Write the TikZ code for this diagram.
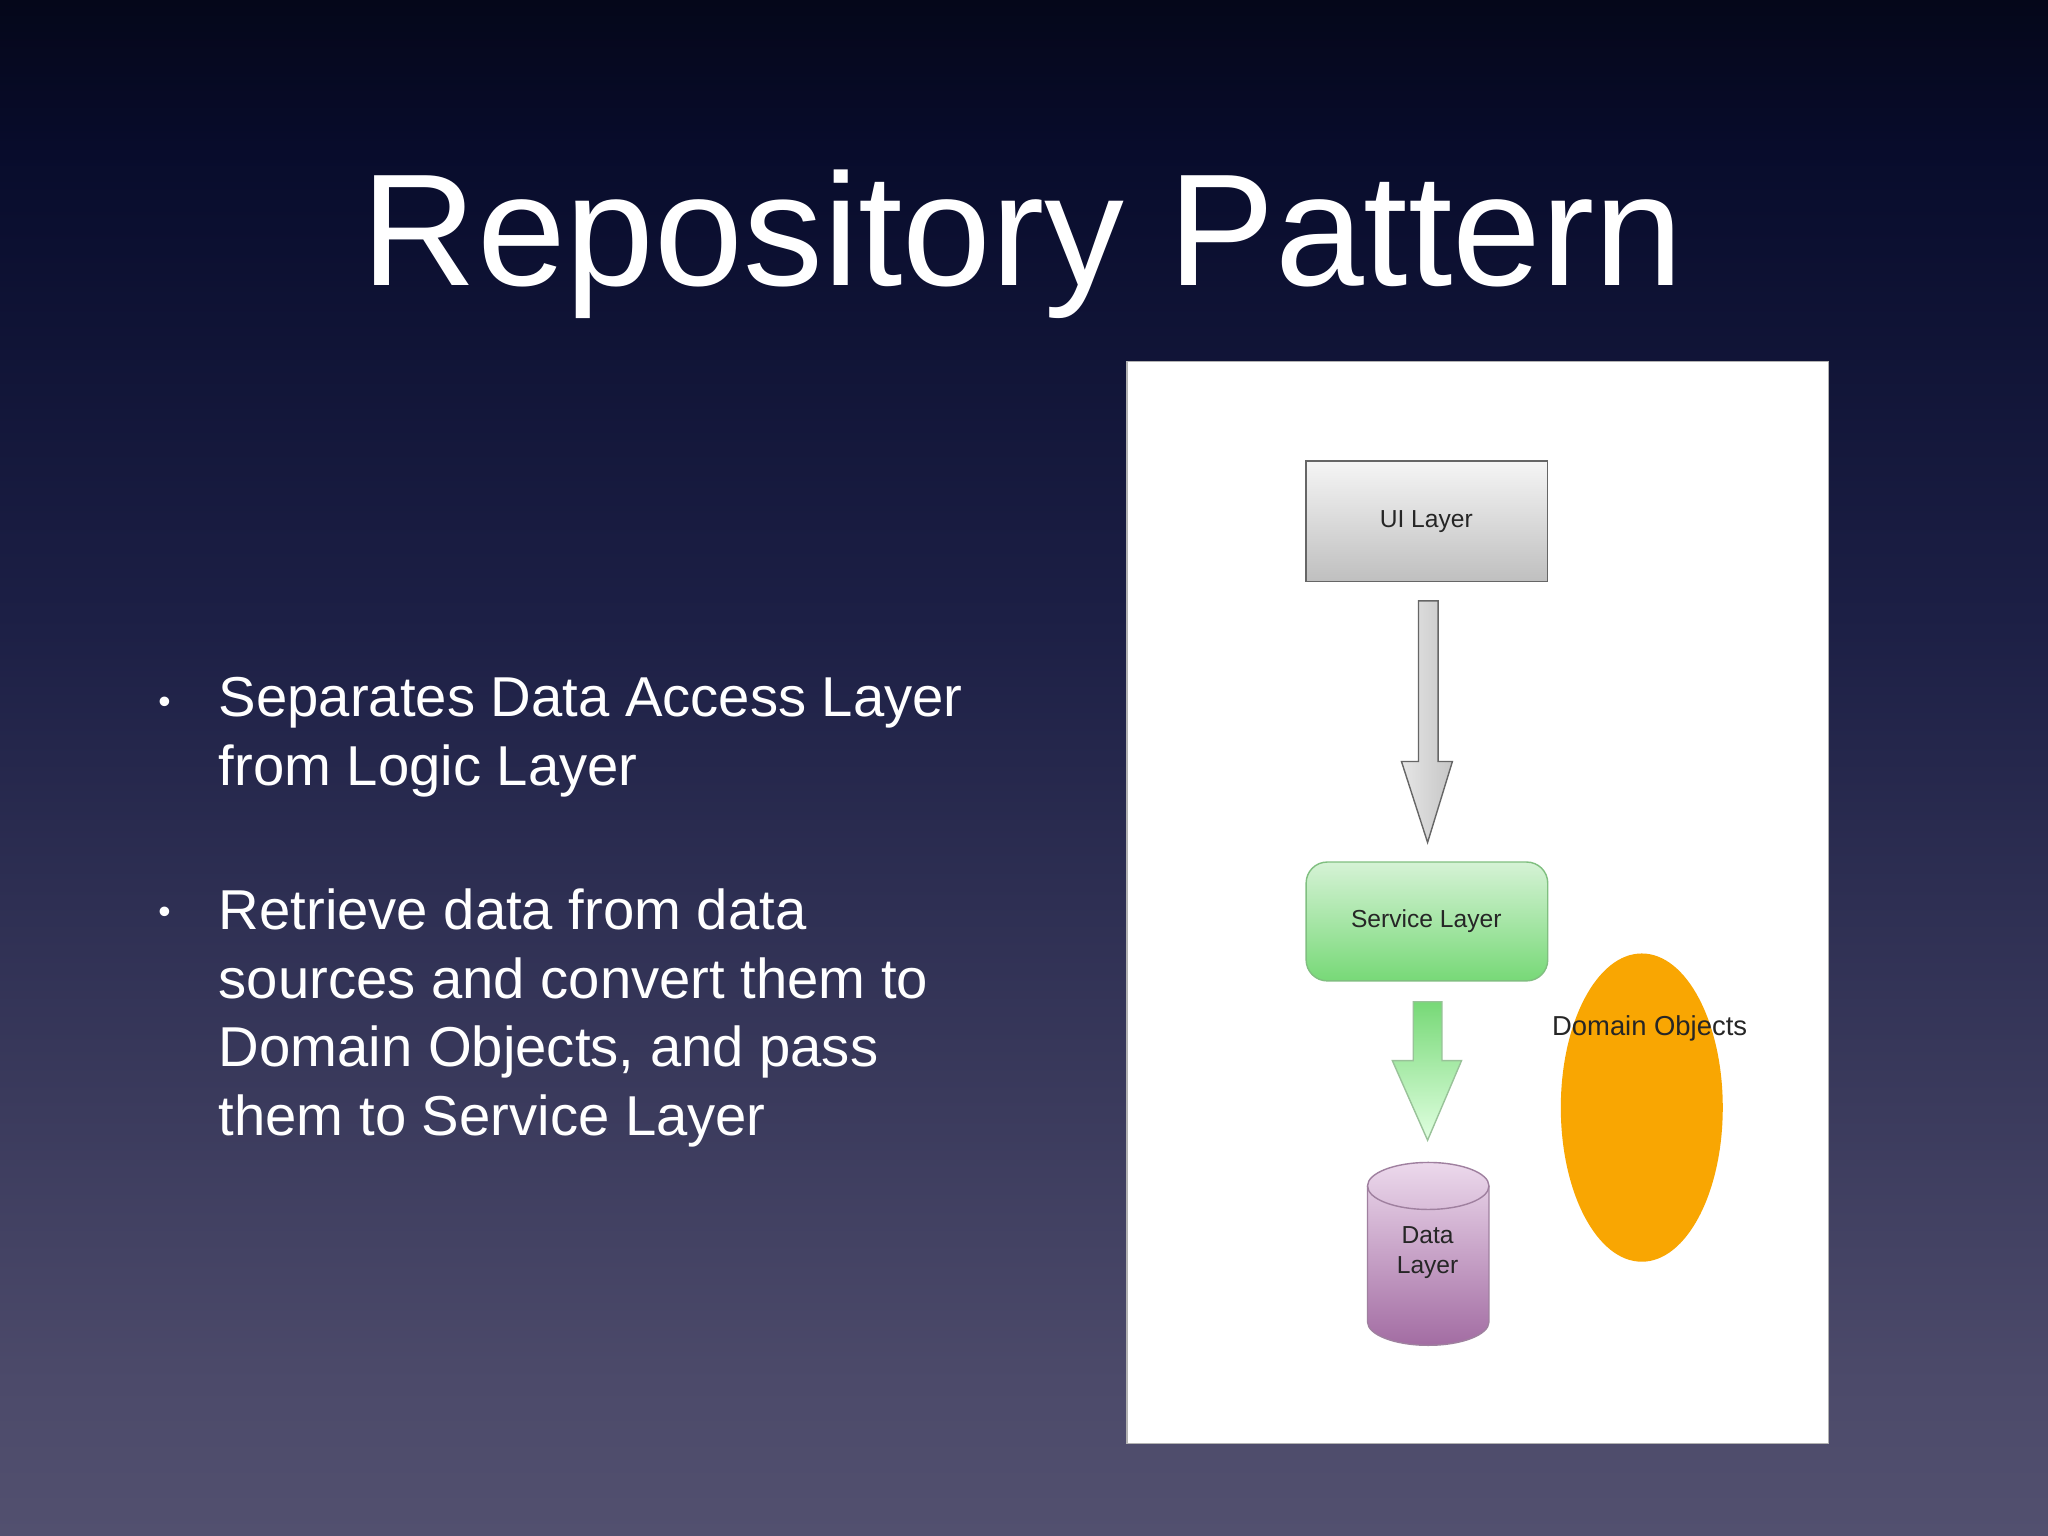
\documentclass[tikz,border=0pt]{standalone}
\usepackage{fontspec}
\setmainfont{Liberation Sans}
\usetikzlibrary{shapes.geometric}
\definecolor{bgbot}{HTML}{706E88}
\definecolor{bga}{HTML}{4C4A6A}
\definecolor{bgb}{HTML}{1C1F45}
\definecolor{bgc}{HTML}{080C2C}
\definecolor{amber}{HTML}{F9A602}
\pgfdeclareverticalshading{bg}{100bp}{
  color(0bp)=(bgbot); color(30bp)=(bga); color(55bp)=(bgb); color(70bp)=(bgc); color(82bp)=(black); color(100bp)=(black)}
\tikzset{
  txt/.style={text=white,font=\fontsize{16pt}{19.5pt}\selectfont,align=left,anchor=north west,inner sep=0pt},
  lbl/.style={font=\fontsize{7pt}{8.5pt}\selectfont,text=black!85},
}
\begin{document}
\begin{tikzpicture}[x=0.013061cm,y=-0.013061cm]
\useasboundingbox (0,0) rectangle (1568,1176);
\shade[shading=bg] (0,0) rectangle (1568,1176);
\node[text=white,font=\fontsize{45.4pt}{52pt}\selectfont] (title) at (783,187) {Repository Pattern};
\node[txt] (b1) at (167,518) {Separates Data Access Layer\\from Logic Layer};
\node[txt] (b2) at (167,680) {Retrieve data from data\\sources and convert them to\\Domain Objects, and pass\\them to Service Layer};
\node[text=white,font=\fontsize{10pt}{12pt}\selectfont] (d1) at (126,540) {•};
\node[text=white,font=\fontsize{10pt}{12pt}\selectfont] (d2) at (126,701) {•};
% panel
\draw[fill=white,draw=gray!60] (863,277) rectangle (1400,1105);
% UI layer
\shade[top color=gray!8,bottom color=gray!50,draw=gray!80!black] (1000,353) rectangle (1185,445);
\node[lbl] (ui) at (1092,399) {UI Layer};
% gray arrow
\shade[left color=gray!20,right color=gray!45,draw=gray!80!black]
  (1086,460) -- (1101,460) -- (1101,583) -- (1112,583) -- (1093,645) -- (1073,583) -- (1086,583) -- cycle;
% service
\shade[rounded corners=6pt,top color=green!12!white!95!black,bottom color=green!45!white!85!black,draw=green!50!black!50] (1000,660) rectangle (1185,751);
\node[lbl] (svc) at (1092,705) {Service Layer};
% green arrow
\shade[top color=green!45!white!85!black,bottom color=green!12!white,draw=green!40!black!40]
  (1082,767) -- (1104,767) -- (1104,812) -- (1119,812) -- (1093,873) -- (1066,812) -- (1082,812) -- cycle;
% cylinder
\shade[top color=violet!15!white,bottom color=violet!50!white!85!black,draw=violet!50!black!50]
  (1047,908) -- (1047,1012) arc[start angle=180,end angle=0,x radius=46.5,y radius=18] -- (1140,908) arc[start angle=0,end angle=-180,x radius=46.5,y radius=18] -- cycle;
\draw[draw=violet!50!black!50] (1047,908) arc[start angle=180,end angle=0,x radius=46.5,y radius=18];
\node[lbl,align=center] (data) at (1093,959) {Data\\Layer};
% ellipse
\node[ellipse,fill=amber,minimum width=124*0.013061cm,minimum height=236*0.013061cm,inner sep=0pt] (dom) at (1257,848) {};
\node[lbl,font=\fontsize{7.8pt}{9pt}\selectfont] (domt) at (1263,787) {Domain Objects};
\end{tikzpicture}
\end{document}
